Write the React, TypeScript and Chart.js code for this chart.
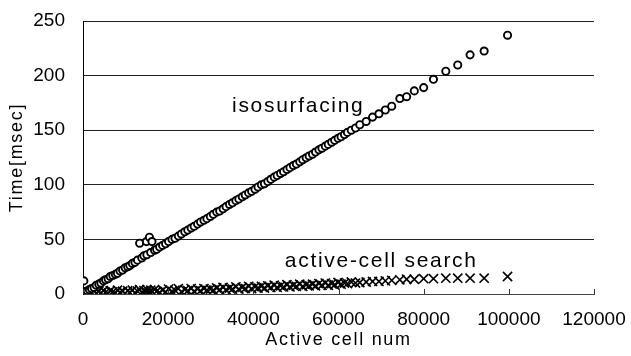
import React, { useEffect, useRef } from "react";
import { Chart, registerables } from "chart.js";

Chart.register(...registerables);

const cellCounts = [
  200, 300, 1000, 1500, 2000, 2600, 3100, 3700, 4200, 4800, 5300, 5900, 6400, 7000, 7600, 8100, 8700, 9300, 9900,
  10500, 11000, 11600, 12200, 12800, 13300, 13800, 14300, 14900, 15000, 15600, 15900, 16200, 16800, 17300, 18000,
  18700, 19400, 20100, 20900, 21600, 22400, 23100, 23900, 24600, 25400, 26100, 26900, 27600, 28400, 29100, 29900,
  30600, 31400, 32100, 32900, 33600, 34400, 35100, 35900, 36600, 37400, 38100, 38900, 39600, 40400, 41100, 41900,
  42600, 43400, 44100, 44900, 45600, 46400, 47100, 47900, 48600, 49400, 50100, 50900, 51600, 52400, 53100, 53900,
  54600, 55400, 56100, 56900, 57600, 58400, 59100, 59900, 60600, 61400, 62100, 63000, 64000, 65000, 66500, 68000,
  69500, 71000, 72500, 74400, 76000, 77800, 80000, 82300, 85200, 88000, 90900, 94200, 99700,
];

const isoTimes = [
  12, 2, 3, 4, 5, 6, 8, 9, 10, 12, 13, 14, 16, 17, 18, 19, 21, 22, 24,
  25, 26, 28, 29, 31, 46.5, 33, 35, 48, 36, 52, 38, 48, 40, 41, 43,
  44.5, 46, 48, 50, 51, 53, 55, 57, 58.5, 60.5, 62, 64, 66, 67.5, 69, 71,
  73, 75, 76, 78, 80, 82, 83.5, 85.5, 87, 89, 90.7, 92.6, 94, 96, 98, 100,
  101, 103, 105, 107, 108.5, 110.4, 112, 114, 115.7, 117.6, 119, 121, 123, 124.7, 126.4, 128,
  130, 132, 133.5, 135.4, 137, 139, 140.7, 142.6, 144, 146, 148, 150, 152, 155, 158, 162,
  165, 168.5, 172, 179, 180.7, 186, 189, 196.6, 204, 209.7, 219, 222.5, 237,
];

const searchTimes = [
  1, 0.5, 2, 0, 1.5, 3, 0.5, 2.5, 1, 3, 1.5, 0.5, 3, 2, 1, 3.5, 1.5, 2.5, 0.5,
  3, 1.5, 3.5, 1, 2.5, 4, 1.5, 3, 2, 4, 1.5, 3.5, 2, 4, 2.5, 1.5,
  3.5, 2, 4.5, 2.5, 3.5, 5, 2, 4, 3, 5, 2.5, 4.5, 3, 5, 3.5, 4.5,
  3.5, 5.5, 4, 6, 4, 5.5, 4.5, 6.5, 4.5, 6, 5, 7, 5, 6.5, 5.5, 7,
  5.5, 7.5, 6, 8, 6, 7.5, 6.5, 8.5, 6.5, 8, 7, 9, 7, 8.5, 7.5, 9,
  7.5, 9.5, 8, 10, 8, 9.5, 8.5, 10.5, 9, 10, 9.5, 11, 10, 10.5, 11, 11.5,
  11.5, 12, 12.5, 13, 13.5, 13.5, 14, 14, 14.5, 14.5, 14.5, 14.5, 16,
];

const xTicks = [0, 20000, 40000, 60000, 80000, 100000, 120000];
const yTicks = [0, 50, 100, 150, 200, 250];

const FONT = "'Liberation Sans', Arial, sans-serif";

const textPlugin = {
  id: "texts",
  afterDraw(chart: any) {
    const ctx = chart.ctx as CanvasRenderingContext2D;
    const xs = chart.scales.x;
    const ys = chart.scales.y;
    const area = chart.chartArea;
    ctx.save();
    ctx.strokeStyle = "#333";
    ctx.lineWidth = 1;
    xTicks.forEach((v) => {
      const px = Math.round(xs.getPixelForValue(v)) + 0.5;
      ctx.beginPath();
      ctx.moveTo(px, area.bottom);
      ctx.lineTo(px, area.bottom - 5);
      ctx.stroke();
    });
    ctx.fillStyle = "#000";
    (ctx as any).letterSpacing = "1.7px";
    ctx.textBaseline = "alphabetic";
    ctx.textAlign = "left";
    ctx.font = `21px ${FONT}`;
    ctx.fillText("isosurfacing", xs.getPixelForValue(35000), ys.getPixelForValue(166.7));
    ctx.fillText("active-cell search", xs.getPixelForValue(47400), ys.getPixelForValue(24.7));
    ctx.font = `18px ${FONT}`;
    ctx.textAlign = "center";
    ctx.textBaseline = "middle";
    ctx.fillText("Active cell num", (area.left + area.right) / 2, 340);
    ctx.translate(17, (area.top + area.bottom) / 2);
    ctx.rotate(-Math.PI / 2);
    ctx.fillText("Time[msec]", 0, 0);
    ctx.restore();
  },
};

const zeroPad = (s: any) => {
  s.paddingTop = 0;
  s.paddingBottom = 0;
  s.paddingLeft = 0;
  s.paddingRight = 0;
};

export default function App() {
  const ref = useRef<HTMLCanvasElement>(null);
  useEffect(() => {
    if (!ref.current) return;
    const chart = new Chart(ref.current, {
      type: "scatter",
      data: {
        datasets: [
          {
            label: "isosurfacing",
            data: cellCounts.map((x, i) => ({ x, y: isoTimes[i] })),
            pointStyle: "circle",
            pointRadius: 3.6,
            pointBackgroundColor: "#fff",
            pointBorderColor: "#000",
            pointBorderWidth: 1.9,
          },
          {
            label: "active-cell search",
            data: cellCounts.map((x, i) => ({ x, y: searchTimes[i] })),
            pointStyle: "crossRot",
            pointRadius: 6.5,
            pointBorderColor: "#000",
            pointBorderWidth: 1.6,
          },
        ],
      },
      options: {
        responsive: false,
        animation: false,
        events: [],
        layout: { padding: { top: 21, right: 37, left: 0, bottom: 0 } },
        plugins: { legend: { display: false }, tooltip: { enabled: false } },
        scales: {
          x: {
            type: "linear",
            min: 0,
            max: 120000,
            afterFit: (s: any) => {
              s.height = 62;
              zeroPad(s);
            },
            afterBuildTicks: (s: any) => {
              s.ticks = xTicks.map((v) => ({ value: v }));
            },
            ticks: {
              color: "#000",
              font: { family: FONT, size: 19 },
              padding: 14,
              maxRotation: 0,
              autoSkip: false,
              callback: (v: any) => String(v),
            },
            grid: { display: false, drawTicks: false },
            border: { display: true, color: "#444", width: 1 },
          },
          y: {
            min: 0,
            max: 250,
            afterFit: (s: any) => {
              s.width = 83;
              zeroPad(s);
            },
            afterBuildTicks: (s: any) => {
              s.ticks = yTicks.map((v) => ({ value: v }));
            },
            ticks: {
              color: "#000",
              font: { family: FONT, size: 19 },
              padding: 18,
              callback: (v: any) => String(v),
            },
            grid: { color: "#222", lineWidth: 1, drawTicks: false },
            border: { display: true, color: "#000", width: 1 },
          },
        },
      },
      plugins: [textPlugin],
    });
    return () => chart.destroy();
  }, []);
  return (
    <div style={{ position: "absolute", left: 0, top: 0, width: 631, height: 356, background: "#fff" }}>
      <canvas ref={ref} width={631} height={356} style={{ display: "block" }} />
    </div>
  );
}
